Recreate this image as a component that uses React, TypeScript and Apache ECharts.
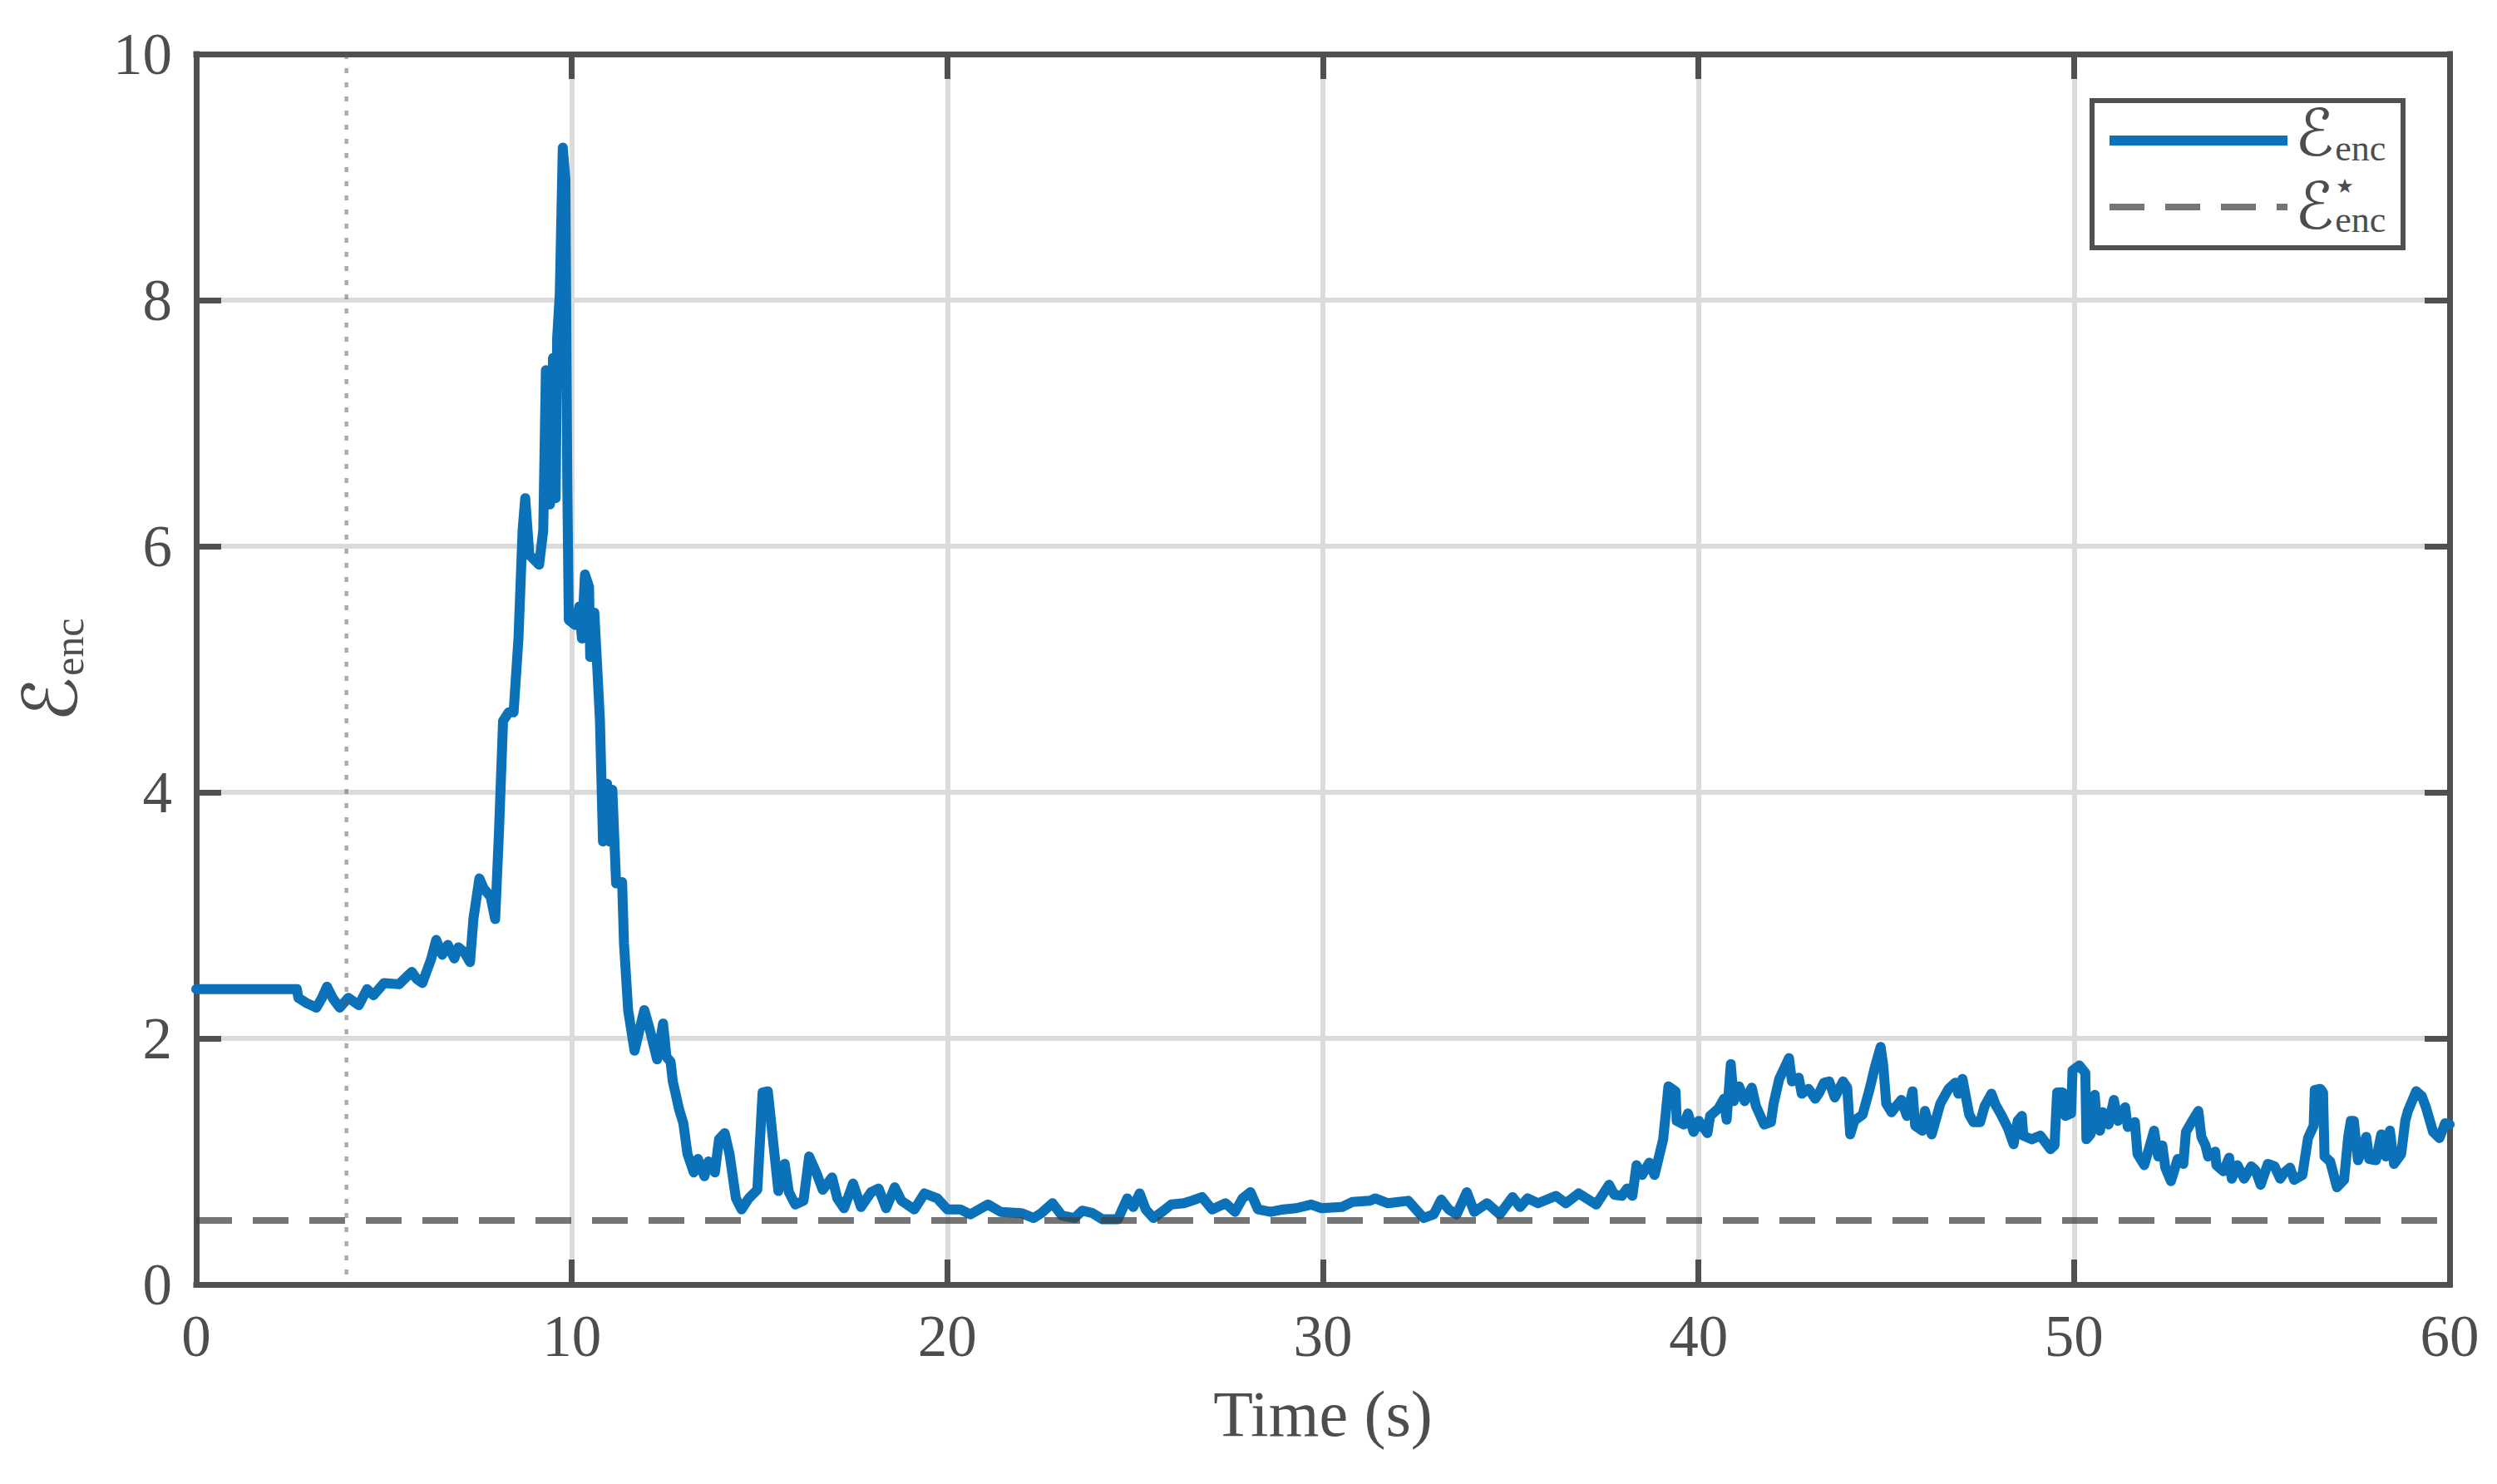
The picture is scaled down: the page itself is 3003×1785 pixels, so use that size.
import React, { useEffect, useRef } from "react";
import * as echarts from "echarts";

// ---- data ----
const TIME = [
  0, 2.68, 2.72, 2.92, 3.2, 3.35, 3.48, 3.65, 3.82, 4.05, 4.33, 4.55, 4.72, 5.0, 5.4, 5.6, 5.74, 5.88, 6.02,
  6.25, 6.39, 6.55, 6.7, 6.87, 6.98, 7.14, 7.29, 7.38, 7.54, 7.65, 7.84, 7.96, 8.06, 8.17, 8.32, 8.45, 8.58,
  8.69, 8.76, 8.87, 9.13, 9.24, 9.31, 9.42, 9.5, 9.57, 9.61, 9.68, 9.76, 9.83, 9.88, 9.92, 10.09, 10.2, 10.27,
  10.35, 10.46, 10.49, 10.6, 10.68, 10.75, 10.83, 10.94, 11.01, 11.08, 11.18, 11.34, 11.39, 11.5, 11.67, 11.93,
  12.07, 12.27, 12.43, 12.52, 12.63, 12.69, 12.86, 12.97, 13.08, 13.25, 13.36, 13.53, 13.64, 13.81, 13.92,
  14.07, 14.2, 14.37, 14.52, 14.71, 14.94, 15.08, 15.22, 15.39, 15.5, 15.67, 15.78, 15.95, 16.17, 16.32, 16.51,
  16.68, 16.93, 17.07, 17.25, 17.49, 17.7, 17.97, 18.17, 18.37, 18.6, 18.78, 19.12, 19.39, 19.73, 20.0, 20.34,
  20.61, 21.08, 21.42, 21.97, 22.3, 22.5, 22.8, 23.05, 23.39, 23.59, 23.86, 24.13, 24.54, 24.79, 24.95, 25.12,
  25.28, 25.49, 25.76, 25.96, 26.3, 26.5, 26.78, 27.05, 27.41, 27.66, 27.86, 28.07, 28.27, 28.61, 28.95, 29.29,
  29.69, 29.96, 30.51, 30.78, 31.25, 31.39, 31.73, 32.27, 32.68, 32.95, 33.15, 33.35, 33.56, 33.83, 34.03,
  34.37, 34.71, 35.05, 35.25, 35.45, 35.73, 36.2, 36.47, 36.81, 37.28, 37.62, 37.76, 37.96, 38.1, 38.24, 38.35,
  38.5, 38.69, 38.83, 39.06, 39.2, 39.39, 39.42, 39.61, 39.72, 39.87, 40.01, 40.24, 40.31, 40.53, 40.68, 40.75,
  40.86, 40.94, 41.08, 41.23, 41.42, 41.53, 41.75, 41.93, 42.0, 42.15, 42.41, 42.49, 42.67, 42.75, 42.93,
  43.11, 43.22, 43.34, 43.48, 43.63, 43.85, 43.96, 44.04, 44.15, 44.37, 44.55, 44.7, 44.85, 44.92, 45.0, 45.14,
  45.4, 45.55, 45.7, 45.77, 45.96, 46.03, 46.21, 46.44, 46.66, 46.84, 46.92, 47.03, 47.21, 47.32, 47.5, 47.62,
  47.8, 47.91, 48.06, 48.24, 48.39, 48.5, 48.61, 48.65, 48.87, 49.1, 49.37, 49.48, 49.55, 49.7, 49.77, 49.92,
  49.96, 50.14, 50.3, 50.33, 50.44, 50.55, 50.62, 50.69, 50.77, 50.92, 51.06, 51.17, 51.36, 51.43, 51.62,
  51.69, 51.87, 52.02, 52.13, 52.24, 52.35, 52.43, 52.58, 52.76, 52.91, 52.98, 53.13, 53.31, 53.39, 53.5,
  53.57, 53.76, 53.79, 53.98, 54.13, 54.2, 54.35, 54.53, 54.72, 54.83, 54.97, 55.16, 55.34, 55.49, 55.6,
  55.75, 55.86, 56.08, 56.23, 56.38, 56.41, 56.56, 56.63, 56.67, 56.82, 57.0, 57.19, 57.3, 57.37, 57.45,
  57.56, 57.63, 57.78, 57.86, 58.04, 58.18, 58.3, 58.41, 58.52, 58.71, 58.82, 58.89, 59.11, 59.26, 59.37,
  59.56, 59.73, 59.88, 60.0,
];
const ENC = [
  2.4, 2.4, 2.33, 2.29, 2.25, 2.33, 2.42, 2.32, 2.25, 2.33, 2.27, 2.4, 2.35, 2.45, 2.44, 2.5, 2.54, 2.48, 2.45,
  2.64, 2.8, 2.68, 2.76, 2.65, 2.74, 2.7, 2.62, 2.97, 3.3, 3.22, 3.15, 2.97, 3.67, 4.58, 4.65, 4.65, 5.25,
  6.13, 6.39, 5.93, 5.85, 6.13, 7.43, 6.34, 7.53, 6.39, 7.69, 8.05, 9.24, 8.98, 6.5, 5.4, 5.36, 5.51, 5.25,
  5.77, 5.67, 5.1, 5.46, 5.0, 4.58, 3.6, 4.07, 3.6, 4.02, 3.26, 3.27, 2.77, 2.23, 1.9, 2.23,
  2.08, 1.83, 2.12, 1.85, 1.81, 1.65, 1.42, 1.31, 1.06, 0.91, 1.02, 0.88, 1.0, 0.91, 1.18,
  1.23, 1.06, 0.7, 0.61, 0.7, 0.77, 1.56, 1.57, 1.08, 0.76, 0.98, 0.75, 0.65, 0.68, 1.04, 0.91,
  0.77, 0.87, 0.7, 0.62, 0.82, 0.63, 0.75, 0.78, 0.62, 0.79, 0.68, 0.61, 0.74, 0.7, 0.61, 0.61,
  0.57, 0.65, 0.59, 0.58, 0.54, 0.58, 0.66, 0.56, 0.54, 0.6, 0.58, 0.53, 0.53, 0.7, 0.63, 0.74,
  0.61, 0.54, 0.6, 0.65, 0.66, 0.68, 0.71, 0.61, 0.66, 0.59, 0.7, 0.75, 0.61, 0.59, 0.61, 0.62,
  0.65, 0.62, 0.63, 0.67, 0.68, 0.7, 0.66, 0.68, 0.54, 0.57, 0.69, 0.61, 0.57, 0.75, 0.59,
  0.66, 0.57, 0.71, 0.63, 0.7, 0.66, 0.72, 0.66, 0.74, 0.65, 0.81, 0.73, 0.72, 0.78, 0.72, 0.97,
  0.89, 0.99, 0.89, 1.18, 1.61, 1.57, 1.33, 1.3, 1.39, 1.24, 1.33, 1.23, 1.37, 1.43, 1.51, 1.34,
  1.79, 1.49, 1.61, 1.49, 1.6, 1.45, 1.3, 1.32, 1.47, 1.67, 1.84, 1.65, 1.68, 1.55, 1.59,
  1.51, 1.56, 1.64, 1.65, 1.52, 1.65, 1.6, 1.22, 1.33, 1.38, 1.58, 1.77, 1.93, 1.78, 1.47, 1.4,
  1.5, 1.37, 1.57, 1.29, 1.25, 1.41, 1.22, 1.47, 1.59, 1.64, 1.55, 1.67, 1.38, 1.32, 1.32, 1.45,
  1.55, 1.46, 1.38, 1.27, 1.14, 1.33, 1.37, 1.21, 1.18, 1.21, 1.1, 1.13, 1.56, 1.56, 1.37, 1.39,
  1.74, 1.78, 1.72, 1.18, 1.22, 1.54, 1.27, 1.25, 1.4, 1.3, 1.5, 1.33, 1.44, 1.28, 1.32,
  1.06, 0.97, 1.13, 1.25, 1.04, 1.13, 0.95, 0.84, 1.02, 0.98, 1.24, 1.32, 1.41, 1.2, 1.13,
  1.04, 1.08, 0.97, 0.92, 1.03, 0.86, 0.97, 0.86, 0.96, 0.93, 0.81, 0.98, 0.96, 0.86, 0.91,
  0.95, 0.85, 0.89, 1.19, 1.29, 1.58, 1.59, 1.56, 1.04, 1.0, 0.79, 0.85, 1.2, 1.33, 1.33,
  1.01, 1.06, 1.2, 1.02, 1.01, 1.22, 1.04, 1.25, 0.98, 1.06, 1.33, 1.41, 1.57, 1.53, 1.44,
  1.24, 1.19, 1.31, 1.3,
];
const THRESHOLD = 0.52;
const MARKER_TIME = 4;
const X_MIN = 0;
const X_MAX = 60;
const X_STEP = 10;
const Y_MIN = 0;
const Y_MAX = 10;
const Y_STEP = 2;
const X_LABEL = "Time (s)";
const SYM = "\u2130"; // script capital E
const SUB = "enc";
const STAR = "\u2605";

const TEXT = "#4d4d4d";
const AXIS = "#505050";
const GRID = "#dbdbdb";
const BLUE = "#0b72b9";
const SERIF = "'Liberation Serif', 'DejaVu Serif', serif";
const SCRIPT = "'DejaVu Serif', 'DejaVu Sans', 'Noto Sans', serif";

function measure(text: string, size: number, family: string) {
  try {
    const c = document.createElement("canvas").getContext("2d");
    if (!c) return size * 0.6;
    c.font = `${size}px ${family}`;
    return c.measureText(text).width;
  } catch (e) {
    return size * 0.6;
  }
}

function mid(baseline: number, size: number) {
  return baseline - 0.34 * size;
}

function txt(x: number, baseline: number, text: string, size: number, family: string, lineHeight?: number) {
  return {
    type: "text",
    x,
    y: mid(baseline, size),
    z: 100,
    silent: true,
    style: {
      text,
      fontSize: size,
      fontFamily: family,
      fill: TEXT,
      lineHeight: lineHeight ?? size,
      align: "left",
      verticalAlign: "middle",
      textAlign: "left",
      textVerticalAlign: "middle",
    },
  };
}

export default function App() {
  const ref = useRef<HTMLDivElement>(null);
  useEffect(() => {
    if (!ref.current) return;
    const chart = echarts.init(ref.current, undefined, { renderer: "svg" });
    const main = TIME.map((t, i) => [t, ENC[i]]);
    const thr = [
      [X_MIN, THRESHOLD],
      [X_MAX, THRESHOLD],
    ];
    const marker = [
      [MARKER_TIME, Y_MAX],
      [MARKER_TIME, Y_MIN],
    ];
    const Y_E = 90;
    const Y_S = 50;
    const L_E = 78;
    const L_S = 44;
    const wYE = measure(SYM, Y_E, SCRIPT);
    const wYS = measure(SUB, Y_S, SERIF);
    const yStart = -(wYE + 1 + wYS) / 2;
    const ySubX = yStart + wYE + 1;
    const wLE = measure(SYM, L_E, SCRIPT);
    const lSubX = Math.max(2801, 2760 + wLE + 1);
    const tickCommon = { show: true, inside: true, length: 30, lineStyle: { color: AXIS, width: 7 } };
    const lineCommon = { show: true, onZero: false, lineStyle: { color: AXIS, width: 7, cap: "square" } };
    const option: any = {
      animation: false,
      backgroundColor: "#ffffff",
      grid: {
        left: 236,
        right: 57,
        top: 65,
        bottom: 240,
        show: false,
      },
      xAxis: [
        {
          type: "value",
          min: X_MIN,
          max: X_MAX,
          interval: X_STEP,
          position: "bottom",
          axisLine: lineCommon,
          axisTick: tickCommon,
          splitLine: { show: true, lineStyle: { color: GRID, width: 6 } },
          axisLabel: { color: TEXT, fontFamily: SERIF, fontSize: 71, margin: 26 },
          name: X_LABEL,
          nameLocation: "middle",
          nameGap: 116,
          nameTextStyle: { color: TEXT, fontFamily: SERIF, fontSize: 78 },
        },
        {
          type: "value",
          min: X_MIN,
          max: X_MAX,
          interval: X_STEP,
          position: "top",
          axisLine: lineCommon,
          axisTick: tickCommon,
          splitLine: { show: false },
          axisLabel: { show: false },
        },
      ],
      yAxis: [
        {
          type: "value",
          min: Y_MIN,
          max: Y_MAX,
          interval: Y_STEP,
          position: "left",
          axisLine: lineCommon,
          axisTick: tickCommon,
          splitLine: { show: true, lineStyle: { color: GRID, width: 6 } },
          axisLabel: { color: TEXT, fontFamily: SERIF, fontSize: 71, margin: 29 },
        },
        {
          type: "value",
          min: Y_MIN,
          max: Y_MAX,
          interval: Y_STEP,
          position: "right",
          axisLine: lineCommon,
          axisTick: tickCommon,
          splitLine: { show: false },
          axisLabel: { show: false },
        },
      ],
      series: [
        {
          type: "line",
          data: main,
          showSymbol: false,
          silent: true,
          z: 3,
          lineStyle: { color: BLUE, width: 12, cap: "round", join: "round" },
        },
        {
          type: "line",
          data: thr,
          showSymbol: false,
          silent: true,
          z: 4,
          lineStyle: { color: "rgba(64,64,64,0.72)", width: 8, type: [43, 25] },
        },
        {
          type: "line",
          data: marker,
          showSymbol: false,
          silent: true,
          z: 4,
          lineStyle: { color: "rgba(90,90,90,0.5)", width: 4.5, type: [6, 11] },
        },
      ],
      graphic: [
        {
          type: "group",
          x: 67,
          y: 806,
          rotation: Math.PI / 2,
          z: 100,
          silent: true,
          children: [
            {
              type: "text",
              x: yStart,
              y: 24 - 0.34 * Y_E,
              style: {
                text: SYM,
                fontSize: Y_E,
                fontFamily: SCRIPT,
                fill: TEXT,
                lineHeight: Y_E,
                align: "left",
                verticalAlign: "middle",
                textAlign: "left",
                textVerticalAlign: "middle",
              },
            },
            {
              type: "text",
              x: ySubX,
              y: 33 - 0.34 * Y_S,
              style: {
                text: SUB,
                fontSize: Y_S,
                fontFamily: SERIF,
                fill: TEXT,
                lineHeight: Y_S,
                align: "left",
                verticalAlign: "middle",
                textAlign: "left",
                textVerticalAlign: "middle",
              },
            },
          ],
        },
        {
          type: "rect",
          z: 99,
          silent: true,
          shape: { x: 2516, y: 121, width: 374, height: 177 },
          style: { fill: "#ffffff", stroke: AXIS, lineWidth: 6 },
        },
        {
          type: "line",
          z: 100,
          silent: true,
          shape: { x1: 2537, y1: 169, x2: 2751, y2: 169 },
          style: { stroke: BLUE, lineWidth: 12 },
        },
        {
          type: "line",
          z: 100,
          silent: true,
          shape: { x1: 2537, y1: 249, x2: 2751, y2: 249 },
          style: { stroke: "rgba(64,64,64,0.72)", lineWidth: 8, lineDash: [42, 25] },
        },
        txt(2760, 187, SYM, L_E, SCRIPT, 60),
        txt(lSubX, 193, SUB, L_S, SERIF, 30),
        txt(2760, 275, SYM, L_E, SCRIPT, 60),
        {
          type: "text",
          x: lSubX + 1,
          y: 224,
          z: 100,
          silent: true,
          style: {
            text: STAR,
            fontSize: 24,
            fontFamily: "'DejaVu Sans', sans-serif",
            fill: TEXT,
            lineHeight: 24,
            align: "left",
            verticalAlign: "middle",
            textAlign: "left",
            textVerticalAlign: "middle",
          },
        },
        txt(lSubX, 279, SUB, L_S, SERIF, 28),
      ],
    };
    chart.setOption(option);
    return () => chart.dispose();
  }, []);
  return (
    <div
      ref={ref}
      style={{ position: "absolute", left: 0, top: 0, width: 3003, height: 1785, background: "#fff" }}
    />
  );
}
